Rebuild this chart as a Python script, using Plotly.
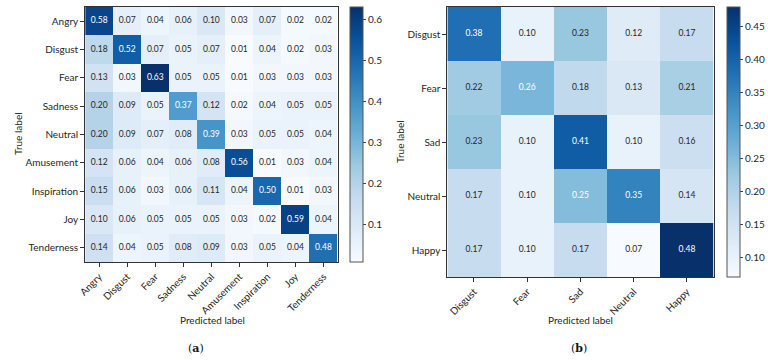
import plotly.graph_objects as go

labels_a = ["Angry", "Disgust", "Fear", "Sadness", "Neutral", "Amusement", "Inspiration", "Joy", "Tenderness"]
cm_a = [
    [0.58, 0.07, 0.04, 0.06, 0.10, 0.03, 0.07, 0.02, 0.02],
    [0.18, 0.52, 0.07, 0.05, 0.07, 0.01, 0.04, 0.02, 0.03],
    [0.13, 0.03, 0.63, 0.05, 0.05, 0.01, 0.03, 0.03, 0.03],
    [0.20, 0.09, 0.05, 0.37, 0.12, 0.02, 0.04, 0.05, 0.05],
    [0.20, 0.09, 0.07, 0.08, 0.39, 0.03, 0.05, 0.05, 0.04],
    [0.12, 0.06, 0.04, 0.06, 0.08, 0.56, 0.01, 0.03, 0.04],
    [0.15, 0.06, 0.03, 0.06, 0.11, 0.04, 0.50, 0.01, 0.03],
    [0.10, 0.06, 0.05, 0.05, 0.05, 0.03, 0.02, 0.59, 0.04],
    [0.14, 0.04, 0.05, 0.08, 0.09, 0.03, 0.05, 0.04, 0.48],
]
ticks_a = [0.1, 0.2, 0.3, 0.4, 0.5, 0.6]

labels_b = ["Disgust", "Fear", "Sad", "Neutral", "Happy"]
cm_b = [
    [0.38, 0.10, 0.23, 0.12, 0.17],
    [0.22, 0.26, 0.18, 0.13, 0.21],
    [0.23, 0.10, 0.41, 0.10, 0.16],
    [0.17, 0.10, 0.25, 0.35, 0.14],
    [0.17, 0.10, 0.17, 0.07, 0.48],
]
ticks_b = [0.10, 0.15, 0.20, 0.25, 0.30, 0.35, 0.40, 0.45]

W, H = 768, 360
FONT = "Lato"
TXT = "#262626"

def px_x(a, b):
    return [a / W, b / W]

def px_y(top, bottom):
    return [1 - bottom / H, 1 - top / H]

fig = go.Figure()

def add_cm(labels, cm, xa, ya, cax):
    zmax = max(max(r) for r in cm)
    thresh = zmax / 2
    fig.add_trace(go.Heatmap(z=cm, x=labels, y=labels, coloraxis=cax,
                             xaxis=xa, yaxis=ya, hoverinfo="skip"))
    xs, ys, ts, cs = [], [], [], []
    for i, row in enumerate(cm):
        for j, v in enumerate(row):
            xs.append(labels[j]); ys.append(labels[i])
            ts.append(f"{v:.2f}")
            cs.append("white" if v > thresh else TXT)
    fig.add_trace(go.Scatter(x=xs, y=ys, text=ts, mode="text",
                             textfont=dict(color=cs, size=8.5, family=FONT),
                             xaxis=xa, yaxis=ya, showlegend=False, hoverinfo="skip"))

add_cm(labels_a, cm_a, "x", "y", "coloraxis")
add_cm(labels_b, cm_b, "x2", "y2", "coloraxis2")

axis_common = dict(showline=True, linecolor="#333333", linewidth=1, mirror=True,
                   ticks="outside", ticklen=4, tickcolor="#333333", showgrid=False,
                   zeroline=False, tickfont=dict(family=FONT, size=10, color=TXT))

cb_common = dict(thickness=13, lenmode="pixels", xanchor="left", yanchor="top",
                 xpad=0, ypad=0,
                 outlinecolor="#555555", outlinewidth=1, ticks="outside", ticklen=3,
                 tickcolor="#444444", tickfont=dict(family=FONT, size=10, color=TXT))

fig.update_layout(
    width=W, height=H, margin=dict(l=0, r=0, t=0, b=0),
    paper_bgcolor="white", plot_bgcolor="white", showlegend=False,
    xaxis=dict(domain=px_x(78, 333), anchor="y", tickangle=-45, **axis_common),
    yaxis=dict(domain=px_y(7, 262), anchor="x", autorange="reversed", **axis_common),
    xaxis2=dict(domain=px_x(444, 713), anchor="y2", tickangle=-45, **axis_common),
    yaxis2=dict(domain=px_y(7, 277), anchor="x2", autorange="reversed", **axis_common),
    coloraxis=dict(colorscale="Blues", cmin=0.01, cmax=0.63,
                   colorbar=dict(x=346 / W, y=1 - 7 / H, len=255, tickvals=ticks_a,
                                 ticktext=[f"{t:.1f}" for t in ticks_a], **cb_common)),
    coloraxis2=dict(colorscale="Blues", cmin=0.07, cmax=0.48,
                    colorbar=dict(x=727 / W, y=1 - 7 / H, len=270, tickvals=ticks_b,
                                  ticktext=[f"{t:.2f}" for t in ticks_b], **cb_common)),
)

ann_font = dict(family=FONT, size=10, color=TXT)
anns = [
    dict(text="True label", x=10 / W, y=1 - 134 / H, textangle=-90),
    dict(text="Predicted label", x=207 / W, y=1 - 320 / H),
    dict(text="True label", x=396 / W, y=1 - 142 / H, textangle=-90),
    dict(text="Predicted label", x=579 / W, y=1 - 320 / H),
]
for a in anns:
    fig.add_annotation(xref="paper", yref="paper", showarrow=False, font=ann_font,
                       xanchor="center", yanchor="middle", **a)
for t, x in [("(<b>a</b>)", 190), ("(<b>b</b>)", 577)]:
    fig.add_annotation(xref="paper", yref="paper", showarrow=False, text=t,
                       x=x / W, y=1 - 348 / H, xanchor="center", yanchor="middle",
                       font=dict(family="DejaVu Serif", size=11, color="#111111"))

fig.write_html("out.html")
